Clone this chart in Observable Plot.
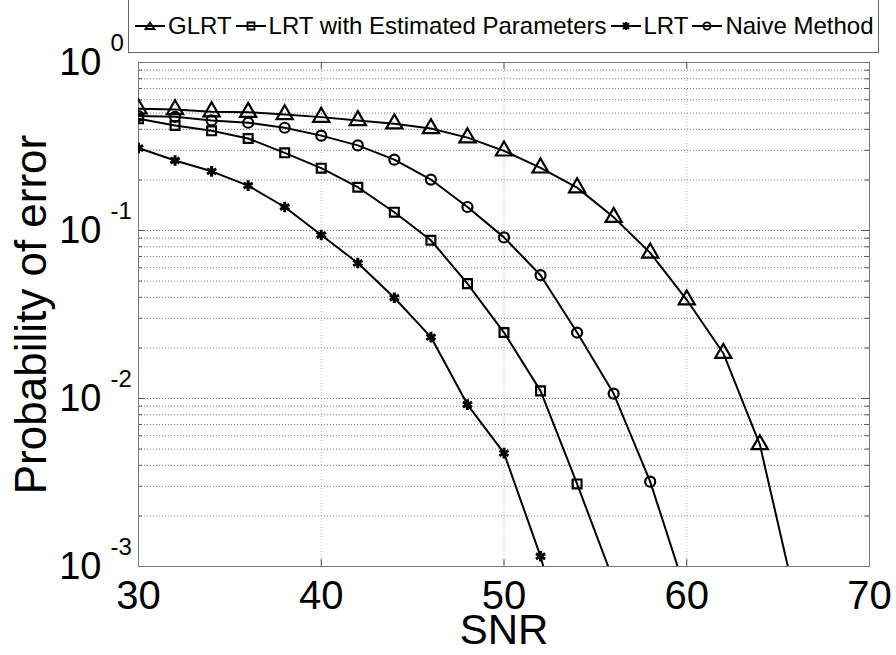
<!DOCTYPE html>
<html>
<head>
<meta charset="utf-8">
<script src="https://cdn.jsdelivr.net/npm/d3@7"></script>
<script src="https://cdn.jsdelivr.net/npm/@observablehq/plot@0.6"></script>
<style>
  html, body { margin: 0; padding: 0; background: #fff; }
  #wrap { position: relative; width: 896px; height: 655px; overflow: hidden; }
  #legend {
    position: absolute; left: 128px; top: -1px; width: 751px; height: 54px;
    border: 1px solid #666; background: #fff; box-sizing: border-box;
    display: flex; align-items: center; padding-left: 6px;
    font-family: "Liberation Sans", Arial, sans-serif; font-size: 24px; color: #000;
    white-space: nowrap;
  }
  #legend .item { display: flex; align-items: center; margin-right: 4px; }
  #legend svg { margin-right: 3px; }
</style>
</head>
<body>
<div id="wrap"><div id="legend"></div></div>
<script>
// ---- data ----
const methods = ["GLRT", "LRT with Estimated Parameters", "LRT", "Naive Method"];
const symbols = ["triangle", "square", "asterisk", "circle"];

const snrGLRT  = [30, 32, 34, 36, 38, 40, 42, 44, 46, 48, 50, 52, 54, 56, 58, 60, 62, 64, 66];
const peGLRT   = [0.53, 0.525, 0.51, 0.506, 0.49, 0.473, 0.452, 0.432, 0.405, 0.357, 0.298, 0.236, 0.18, 0.12, 0.0736, 0.0387, 0.0186, 0.00532, 0.0006];

const snrLRTEst = [30, 32, 34, 36, 38, 40, 42, 44, 46, 48, 50, 52, 54, 56];
const peLRTEst  = [0.462, 0.422, 0.392, 0.353, 0.29, 0.235, 0.181, 0.1285, 0.0875, 0.0483, 0.0247, 0.0111, 0.0031, 0.00082];

const snrLRT = [30, 32, 34, 36, 38, 40, 42, 44, 46, 48, 50, 52, 54];
const peLRT  = [0.31, 0.261, 0.225, 0.185, 0.138, 0.094, 0.064, 0.0398, 0.0232, 0.0092, 0.00473, 0.00115, 0.00018];

const snrNaive = [30, 32, 34, 36, 38, 40, 42, 44, 46, 48, 50, 52, 54, 56, 58, 60];
const peNaive  = [0.48, 0.475, 0.452, 0.438, 0.409, 0.367, 0.321, 0.264, 0.201, 0.138, 0.091, 0.0542, 0.0247, 0.0107, 0.0032, 0.00068];

const xTicks = [30, 40, 50, 60, 70];
const yMajor = [1e-3, 1e-2, 1e-1, 1];
const yExp   = ["-3", "-2", "-1", "0"];

// ---- build table ----
const series = [[snrGLRT, peGLRT], [snrLRTEst, peLRTEst], [snrLRT, peLRT], [snrNaive, peNaive]];
const rows = [];
series.forEach(([xs, ys], i) => xs.forEach((x, j) => rows.push({method: methods[i], snr: x, pe: ys[j]})));

const yMinor = [];
for (const e of [-3, -2, -1]) for (let k = 2; k <= 9; k++) yMinor.push(k * Math.pow(10, e));

const font = "Liberation Sans, Arial, sans-serif";
const grid = {stroke: "#555", strokeOpacity: 0.8, strokeDasharray: "1,2", strokeWidth: 1};
const dotR = {triangle: 6, square: 5, asterisk: 5, circle: 5};

const marks = [
  Plot.ruleY(yMinor, grid),
  Plot.ruleY(yMajor.slice(1, 3), grid),
  Plot.ruleX(xTicks.slice(1, 4), {...grid, stroke: "#999"}),
  // inner tick marks
  Plot.ruleY(yMinor, {x1: 30, x2: 30.22, stroke: "#555"}),
  Plot.ruleY(yMinor, {x1: 69.78, x2: 70, stroke: "#555"}),
  Plot.ruleY(yMajor, {x1: 30, x2: 30.4, stroke: "#555"}),
  Plot.ruleY(yMajor, {x1: 69.6, x2: 70, stroke: "#555"}),
  Plot.ruleX(xTicks, {y1: 1e-3, y2: 1.1e-3, stroke: "#555"}),
  Plot.ruleX(xTicks, {y1: 0.91, y2: 1, stroke: "#555"}),
  Plot.frame({stroke: "#777"}),
  Plot.line(rows, {x: "snr", y: "pe", z: "method", stroke: "black", strokeWidth: 2, clip: true}),
];
methods.forEach((m, i) => {
  marks.push(Plot.dot(rows.filter(d => d.method === m), {
    x: "snr", y: "pe", symbol: () => symbols[i], r: dotR[symbols[i]],
    stroke: "black", fill: "none", strokeWidth: symbols[i] === "asterisk" ? 3 : 2.2, clip: true
  }));
});
marks.push(
  Plot.axisX(xTicks, {tickSize: 0, tickPadding: 14, fontSize: 40, label: null, fill: "black"}),
  Plot.text(yMajor, {y: d => d, frameAnchor: "left", text: () => "10", textAnchor: "end", lineAnchor: "middle", dx: -37, fontSize: 38, fill: "black"}),
  Plot.text(yMajor, {y: d => d, frameAnchor: "left", text: (d, i) => yExp[i], textAnchor: "start", lineAnchor: "middle", dx: -28, dy: -19, fontSize: 24, fill: "black"}),
  Plot.text(["SNR"], {frameAnchor: "bottom", textAnchor: "middle", lineAnchor: "middle", dy: 64, fontSize: 42, fill: "black"}),
  Plot.text(["Probability of error"], {frameAnchor: "left", textAnchor: "middle", lineAnchor: "middle", rotate: -90, dx: -107, fontSize: 44, fill: "black"})
);

const chart = Plot.plot({
  width: 896, height: 655,
  marginLeft: 138, marginRight: 27, marginTop: 62, marginBottom: 89,
  style: {fontFamily: font, background: "white", color: "black", overflow: "visible"},
  x: {domain: [30, 70], axis: null},
  y: {type: "log", domain: [1e-3, 1], axis: null},
  symbol: {domain: symbols, range: symbols},
  marks
});
document.getElementById("wrap").prepend(chart);

// ---- legend ----
const legend = d3.select("#legend");
const iconPath = {
  triangle: "M15,6.5 L19.5,13 L10.5,13 Z",
  square: "M11.5,6.5 H18.5 V13.5 H11.5 Z",
  circle: null,
  asterisk: "M15,6 V14 M11,10 H19 M12,7 L18,13 M18,7 L12,13"
};
methods.forEach((m, i) => {
  const it = legend.append("div").attr("class", "item");
  const s = it.append("svg").attr("width", 30).attr("height", 20);
  s.append("line").attr("x1", 0).attr("x2", 30).attr("y1", 10).attr("y2", 10).attr("stroke", "#000").attr("stroke-width", 2);
  const sym = symbols[i];
  if (sym === "circle") {
    s.append("circle").attr("cx", 15).attr("cy", 10).attr("r", 3.6).attr("fill", "none").attr("stroke", "#000").attr("stroke-width", 1.8);
  } else {
    s.append("path").attr("d", iconPath[sym]).attr("fill", "none").attr("stroke", "#000").attr("stroke-width", sym === "asterisk" ? 2.2 : 1.8);
  }
  it.append("span").text(m);
});
</script>
</body>
</html>
